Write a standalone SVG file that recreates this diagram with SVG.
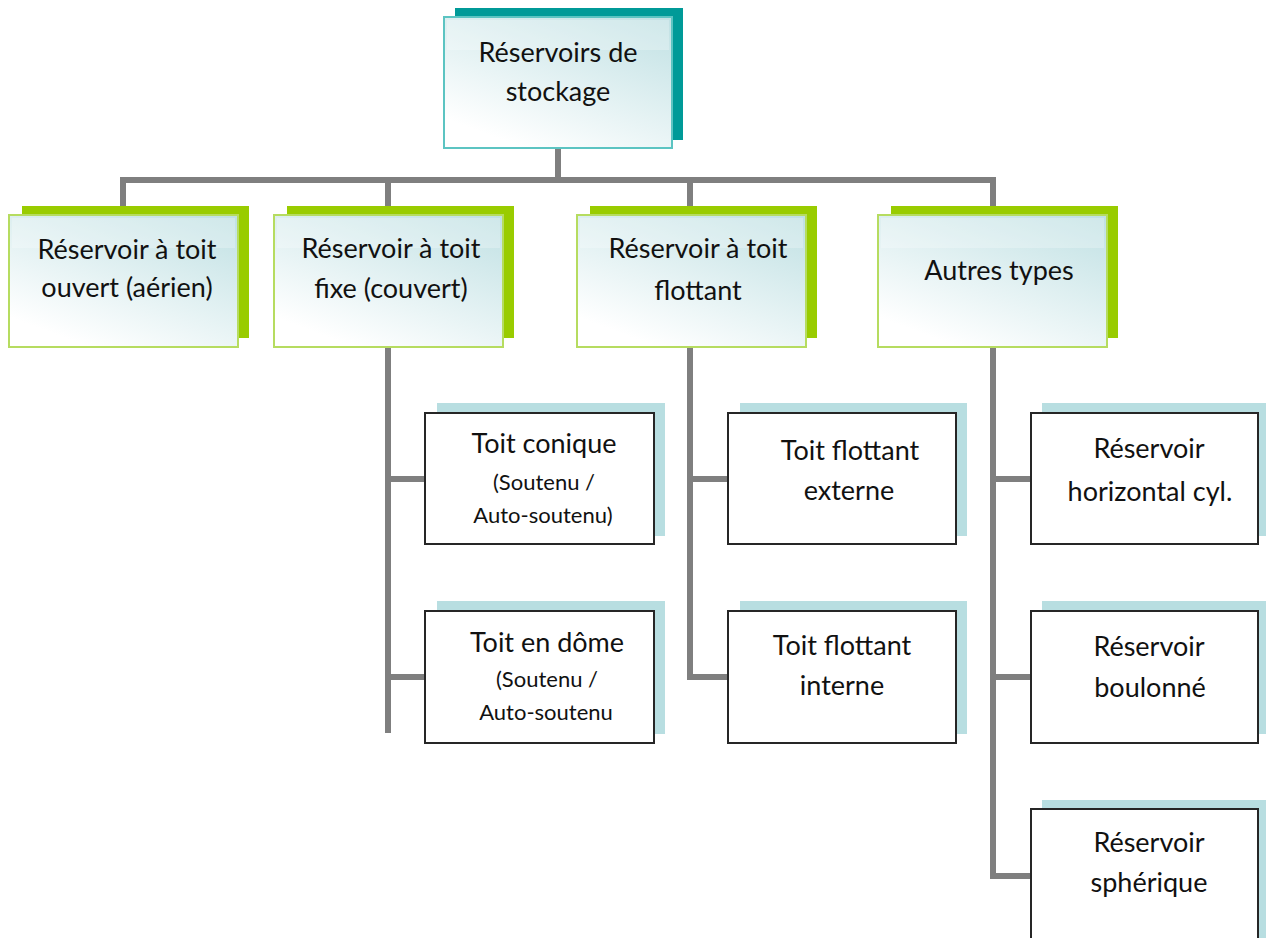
<svg xmlns="http://www.w3.org/2000/svg" width="1266" height="938" viewBox="0 0 1266 938">
<defs>
<linearGradient id="gfill" x1="1" y1="0" x2="0.35" y2="1">
<stop offset="0" stop-color="#bfe0e3"/>
<stop offset="1" stop-color="#ffffff"/>
</linearGradient>
</defs>
<style>
.t{font-family:Lato,"Open Sans","Liberation Sans",sans-serif;font-size:27px;fill:#111;text-anchor:middle}
.s{font-size:22px}
.con{fill:none;stroke:#7f7f7f;stroke-width:6;stroke-linejoin:miter}
.topback{fill:#009a98}
.topfront{fill:url(#gfill);stroke:#5cc4c2;stroke-width:2}
.gback{fill:#99cc00}
.gfront{fill:url(#gfill);stroke:#b6dc60;stroke-width:2}
.gloss{fill:#ffffff;opacity:0.25}
.cback{fill:#b8dee1}
.cfront{fill:#ffffff;stroke:#262626;stroke-width:2}
</style>
<rect width="1266" height="938" fill="#ffffff"/>
<g id="connectors">
<path class="con" d="M558 148 V180"/>
<path class="con" d="M123 206 V180 H993 V206"/>
<path class="con" d="M388 180 V206"/>
<path class="con" d="M690 180 V206"/>
<path class="con" d="M388 347 V733"/>
<path class="con" d="M388 479 H425"/>
<path class="con" d="M388 677 H425"/>
<path class="con" d="M690 347 V677 H728"/>
<path class="con" d="M690 479 H728"/>
<path class="con" d="M993 347 V876 H1031"/>
<path class="con" d="M993 479 H1031"/>
<path class="con" d="M993 677 H1031"/>
</g>
<g id="root">
<rect class="topback" x="455" y="8" width="228" height="132"/>
<rect class="topfront" x="444" y="17" width="228" height="131"/>
<rect class="gloss" x="447" y="20" width="222" height="30"/>
<text class="t" x="558" y="62">Réservoirs de</text>
<text class="t" x="558" y="101">stockage</text>
</g>
<g id="n-ouvert">
<rect class="gback" x="22" y="206" width="227" height="132"/>
<rect class="gfront" x="9" y="215" width="229" height="132"/>
<rect class="gloss" x="12" y="218" width="223" height="30"/>
<text class="t" x="127" y="259">Réservoir à toit</text>
<text class="t" x="127" y="297">ouvert (aérien)</text>
</g>
<g id="n-fixe">
<rect class="gback" x="287" y="206" width="227" height="132"/>
<rect class="gfront" x="274" y="215" width="229" height="132"/>
<rect class="gloss" x="277" y="218" width="223" height="30"/>
<text class="t" x="391" y="258">Réservoir à toit</text>
<text class="t" x="391" y="298">fixe (couvert)</text>
</g>
<g id="n-flottant">
<rect class="gback" x="590" y="206" width="227" height="132"/>
<rect class="gfront" x="577" y="215" width="229" height="132"/>
<rect class="gloss" x="580" y="218" width="223" height="30"/>
<text class="t" x="698" y="258">Réservoir à toit</text>
<text class="t" x="698" y="300">flottant</text>
</g>
<g id="n-autres">
<rect class="gback" x="891" y="206" width="227" height="132"/>
<rect class="gfront" x="878" y="215" width="229" height="132"/>
<rect class="gloss" x="881" y="218" width="223" height="30"/>
<text class="t" x="999" y="280">Autres types</text>
</g>
<g id="c-conique">
<rect class="cback" x="437" y="403" width="228" height="133"/>
<rect class="cfront" x="425" y="413" width="229" height="131"/>
<text class="t" x="544" y="453">Toit conique</text>
<text class="t s" x="544" y="490">(Soutenu /</text>
<text class="t s" x="543" y="523">Auto-soutenu)</text>
</g>
<g id="c-dome">
<rect class="cback" x="437" y="601" width="228" height="133"/>
<rect class="cfront" x="425" y="611" width="229" height="132"/>
<text class="t" x="547" y="652">Toit en dôme</text>
<text class="t s" x="547" y="687">(Soutenu /</text>
<text class="t s" x="546" y="720">Auto-soutenu</text>
</g>
<g id="c-externe">
<rect class="cback" x="740" y="403" width="227" height="133"/>
<rect class="cfront" x="728" y="413" width="228" height="131"/>
<text class="t" x="850" y="460">Toit flottant</text>
<text class="t" x="849" y="500">externe</text>
</g>
<g id="c-interne">
<rect class="cback" x="740" y="601" width="227" height="133"/>
<rect class="cfront" x="728" y="611" width="228" height="132"/>
<text class="t" x="842" y="655">Toit flottant</text>
<text class="t" x="842" y="695">interne</text>
</g>
<g id="c-horizontal">
<rect class="cback" x="1042" y="403" width="228" height="133"/>
<rect class="cfront" x="1031" y="413" width="227" height="131"/>
<text class="t" x="1149" y="458">Réservoir</text>
<text class="t" x="1150" y="501">horizontal cyl.</text>
</g>
<g id="c-boulonne">
<rect class="cback" x="1042" y="601" width="228" height="133"/>
<rect class="cfront" x="1031" y="611" width="227" height="132"/>
<text class="t" x="1149" y="656">Réservoir</text>
<text class="t" x="1150" y="697">boulonné</text>
</g>
<g id="c-spherique">
<rect class="cback" x="1042" y="800" width="228" height="140"/>
<rect class="cfront" x="1031" y="809" width="227" height="140"/>
<text class="t" x="1149" y="852">Réservoir</text>
<text class="t" x="1149" y="892">sphérique</text>
</g>
</svg>
